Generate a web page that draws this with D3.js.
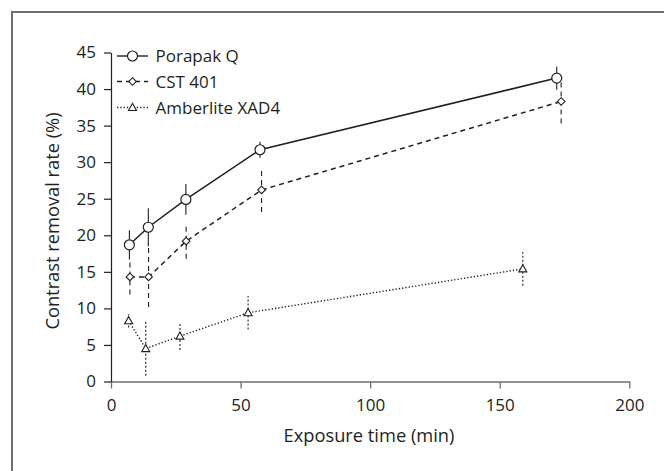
<!DOCTYPE html>
<html>
<head>
<meta charset="utf-8">
<script src="https://cdn.jsdelivr.net/npm/d3@7"></script>
<style>
  body { margin: 0; background: #fff; }
  text { font-family: "Open Sans", sans-serif; fill: #231f20; }
</style>
</head>
<body>
<div id="chart"></div>
<script>
// data
const seriesNames = ["Porapak Q", "CST 401", "Amberlite XAD4"];
const porapakTime = [7.1, 14.4, 28.9, 57.5, 172];
const porapakRate = [18.7, 21.1, 24.9, 31.7, 41.5];
const porapakErr = [2.0, 2.6, 2.1, 1.1, 1.6];
const cstTime = [7.3, 14.5, 29, 58.1, 173.7];
const cstRate = [14.3, 14.3, 19.2, 26.2, 38.3];
const cstErr = [2.4, 4.1, 2.4, 3.0, 3.0];
const xadTime = [6.8, 13.4, 26.6, 52.9, 158.9];
const xadRate = [8.3, 4.5, 6.2, 9.4, 15.4];
const xadErr = [0.9, 3.7, 1.9, 2.3, 2.3];
const xTicks = [0, 50, 100, 150, 200];
const yTicks = [0, 5, 10, 15, 20, 25, 30, 35, 40, 45];

const width = 664, height = 471;

const svg = d3.select("#chart").append("svg")
  .attr("width", width)
  .attr("height", height);

// outer frame (cropped on right and bottom)
svg.append("rect")
  .attr("x", 12).attr("y", 12)
  .attr("width", 800).attr("height", 600)
  .attr("fill", "none")
  .attr("stroke", "#6d6e70")
  .attr("stroke-width", 2);

const x = d3.scaleLinear().domain([0, 200]).range([111, 629.3]);
const y = d3.scaleLinear().domain([0, 45]).range([381.5, 52.5]);

const styles = [
  {dash: null, marker: "circle"},
  {dash: "5,4", marker: "diamond"},
  {dash: "1.3,2", marker: "triangle"}
];

const series = [
  {name: seriesNames[0], t: porapakTime, v: porapakRate, e: porapakErr},
  {name: seriesNames[1], t: cstTime, v: cstRate, e: cstErr},
  {name: seriesNames[2], t: xadTime, v: xadRate, e: xadErr}
];

// axes
const xAxis = svg.append("g")
  .attr("transform", "translate(0," + y(0) + ")")
  .call(d3.axisBottom(x).tickValues(xTicks).tickSize(7).tickPadding(10).tickSizeOuter(0));
xAxis.select(".domain").attr("stroke", "#6d6e70").attr("stroke-width", 1.3);
xAxis.selectAll(".tick line").attr("stroke", "#6d6e70").attr("stroke-width", 1.3);

const yAxis = svg.append("g")
  .attr("transform", "translate(" + x(0) + ",0)")
  .call(d3.axisLeft(y).tickValues(yTicks).tickSize(7).tickPadding(8).tickSizeOuter(0));
yAxis.select(".domain").attr("stroke", "#231f20").attr("stroke-width", 1.2);
yAxis.selectAll(".tick line").attr("stroke", "#231f20").attr("stroke-width", 1.2);

svg.selectAll(".tick text")
  .style("font-size", "17px")
  .attr("fill", "#231f20");

// axis titles
svg.append("text")
  .attr("x", 369).attr("y", 441.5)
  .attr("text-anchor", "middle")
  .style("font-size", "18.3px")
  .text("Exposure time (min)");

svg.append("text")
  .attr("transform", "translate(59,221) rotate(-90)")
  .attr("text-anchor", "middle")
  .style("font-size", "18.3px")
  .text("Contrast removal rate (%)");

function drawMarker(g, kind, cx, cy) {
  if (kind === "circle") {
    g.append("circle").attr("cx", cx).attr("cy", cy).attr("r", 5)
      .attr("fill", "#fff").attr("stroke", "#231f20").attr("stroke-width", 1.2);
  } else if (kind === "diamond") {
    g.append("path")
      .attr("d", `M${cx},${cy - 3.8}L${cx + 3.8},${cy}L${cx},${cy + 3.8}L${cx - 3.8},${cy}Z`)
      .attr("fill", "#fff").attr("stroke", "#231f20").attr("stroke-width", 1.1);
  } else {
    g.append("path")
      .attr("d", `M${cx},${cy - 4.2}L${cx + 4},${cy + 3}L${cx - 4},${cy + 3}Z`)
      .attr("fill", "#fff").attr("stroke", "#231f20").attr("stroke-width", 1.1);
  }
}

const line = d3.line().x(d => x(d[0])).y(d => y(d[1]));

series.forEach((s, i) => {
  const st = styles[i];
  const pts = s.t.map((t, j) => [t, s.v[j], s.e[j]]);
  const g = svg.append("g");

  // error bars
  g.selectAll(".err").data(pts).enter().append("line")
    .attr("x1", d => x(d[0])).attr("x2", d => x(d[0]))
    .attr("y1", d => y(d[1] - d[2])).attr("y2", d => y(d[1] + d[2]))
    .attr("stroke", "#231f20").attr("stroke-width", 1.1)
    .attr("stroke-dasharray", i === 0 ? null : (i === 1 ? "5,4" : "2,2"));

  g.append("path")
    .datum(pts)
    .attr("d", line)
    .attr("fill", "none")
    .attr("stroke", "#231f20")
    .attr("stroke-width", i === 2 ? 1.4 : 1.5)
    .attr("stroke-dasharray", st.dash);

  pts.forEach(d => drawMarker(g, st.marker, x(d[0]), y(d[1])));
});

// legend
const legendY = [56, 81.5, 107.5];
series.forEach((s, i) => {
  const g = svg.append("g");
  g.append("line")
    .attr("x1", 117).attr("x2", 148)
    .attr("y1", legendY[i]).attr("y2", legendY[i])
    .attr("stroke", "#231f20").attr("stroke-width", 1.4)
    .attr("stroke-dasharray", styles[i].dash);
  drawMarker(g, styles[i].marker, 132.5, legendY[i]);
  g.append("text")
    .attr("x", 155.5).attr("y", legendY[i] + 6)
    .style("font-size", "17px")
    .text(s.name);
});
</script>
</body>
</html>
